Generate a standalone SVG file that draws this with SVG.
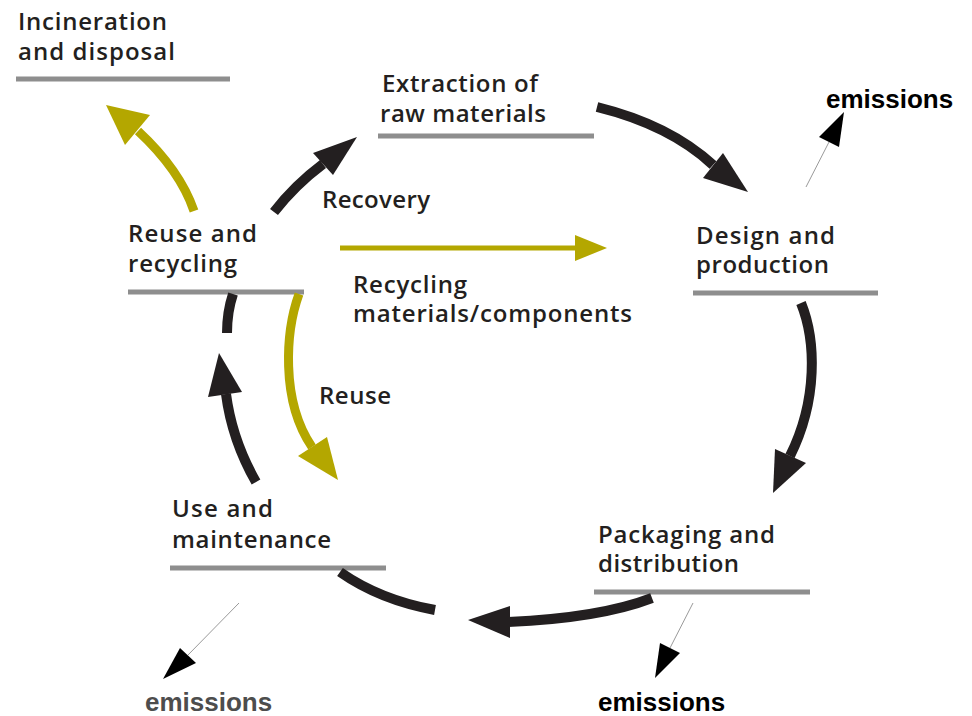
<svg xmlns="http://www.w3.org/2000/svg" width="972" height="716" viewBox="0 0 972 716">
<defs>
<style>
.lbl{font-family:"Open Sans","DejaVu Sans",sans-serif;font-size:24px;font-weight:600;fill:#231f20;}
.em{font-family:"Liberation Sans",Arial,sans-serif;font-size:26px;font-weight:bold;fill:#000;}
.ul{stroke:#8e8e8e;stroke-width:5;fill:none;}
.blk{stroke:#231f20;stroke-width:10;fill:none;}
.olv{stroke:#b4a700;stroke-width:9;fill:none;}
.blkh{fill:#231f20;}
.olvh{fill:#b4a700;}
.thin{stroke:#9a9a9a;stroke-width:1;fill:none;}
.emh{fill:#000;}
</style>
</defs>
<rect width="972" height="716" fill="#fff"/>

<g id="incineration">
<text class="lbl" x="18" y="30" textLength="149" lengthAdjust="spacing">Incineration</text>
<text class="lbl" x="18" y="60" textLength="157" lengthAdjust="spacing">and disposal</text>
<line class="ul" x1="16" y1="79" x2="230" y2="79"/>
</g>

<g id="extraction">
<text class="lbl" x="382" y="92" textLength="156" lengthAdjust="spacing">Extraction of</text>
<text class="lbl" x="380" y="122" textLength="166" lengthAdjust="spacing">raw materials</text>
<line class="ul" x1="378" y1="136" x2="594" y2="136"/>
</g>

<g id="design">
<text class="lbl" x="696" y="244" textLength="139" lengthAdjust="spacing">Design and</text>
<text class="lbl" x="696" y="273" textLength="133" lengthAdjust="spacing">production</text>
<line class="ul" x1="693" y1="293" x2="878" y2="293"/>
</g>

<g id="reuse-recycling">
<text class="lbl" x="128" y="242" textLength="129" lengthAdjust="spacing">Reuse and</text>
<text class="lbl" x="128" y="272" textLength="109" lengthAdjust="spacing">recycling</text>
<line class="ul" x1="128" y1="292" x2="304" y2="292"/>
</g>

<g id="use">
<text class="lbl" x="172" y="517" textLength="101" lengthAdjust="spacing">Use and</text>
<text class="lbl" x="172" y="548" textLength="159" lengthAdjust="spacing">maintenance</text>
<line class="ul" x1="170" y1="568" x2="386" y2="568"/>
</g>

<g id="packaging">
<text class="lbl" x="598" y="543" textLength="177" lengthAdjust="spacing">Packaging and</text>
<text class="lbl" x="598" y="572" textLength="141" lengthAdjust="spacing">distribution</text>
<line class="ul" x1="594" y1="592" x2="810" y2="592"/>
</g>

<g id="emissions-top">
<text class="em" x="826" y="108">emissions</text>
</g>
<g id="emissions-left">
<text class="em" x="145" y="711" style="fill:#4d4d4d">emissions</text>
</g>
<g id="emissions-right">
<text class="em" x="598" y="711">emissions</text>
</g>

<g id="connectors">
<!-- Extraction -> Design -->
<path class="blk" d="M597,107 Q670,125 713,165"/>
<polygon class="blkh" points="748,192 703,178 723,153"/>
<!-- Design -> Packaging -->
<path class="blk" d="M801,303 C816,340 818,400 790,456"/>
<polygon class="blkh" points="773,493 775,449 806,463"/>
<!-- Packaging -> Use -->
<path class="blk" d="M652,598 Q600,618 508,622"/>
<polygon class="blkh" points="468,620 510,606 510,638"/>
<path class="blk" d="M340,572 Q380,600 435,610"/>
<!-- Use -> Reuse and recycling -->
<path class="blk" d="M256,482 Q232,440 226,394"/>
<polygon class="blkh" points="219,353 208,397 242,392"/>
<path class="blk" d="M233,294 Q227,312 227,333"/>
<!-- Recovery -->
<path class="blk" d="M274,212 Q295,185 323,164"/>
<polygon class="blkh" points="357,137 313,153 333,175"/>
<!-- Reuse and recycling -> Incineration -->
<path class="olv" d="M194,211 Q180,170 138,131"/>
<polygon class="olvh" points="106,105 125,145 150,115"/>
<!-- Recycling materials/components -->
<line x1="340" y1="248" x2="577" y2="248" stroke="#b4a700" stroke-width="5"/>
<polygon class="olvh" points="607,248 575,235 575,261"/>
<!-- Reuse -->
<path class="olv" d="M299,294 C286,330 280,400 312,447"/>
<polygon class="olvh" points="338,480 298,456 327,437"/>
<!-- emissions -->
<line class="thin" x1="806" y1="187" x2="829" y2="142"/>
<polygon class="emh" points="844,112 819,137 839,147"/>
<line class="thin" x1="239" y1="603" x2="188" y2="655"/>
<polygon class="emh" points="163,679 180,648 196,663"/>
<line class="thin" x1="693" y1="603" x2="670" y2="648"/>
<polygon class="emh" points="655,678 660,643 680,653"/>
</g>

<g id="edge-labels">
<text class="lbl" x="322" y="208" textLength="108" lengthAdjust="spacing">Recovery</text>
<text class="lbl" x="353" y="293" textLength="114" lengthAdjust="spacing">Recycling</text>
<text class="lbl" x="353" y="322" textLength="279" lengthAdjust="spacing">materials/components</text>
<text class="lbl" x="319" y="404" textLength="72" lengthAdjust="spacing">Reuse</text>
</g>
</svg>
